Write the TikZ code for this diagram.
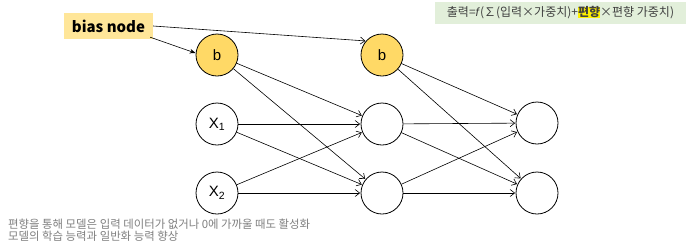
\documentclass[tikz,border=0pt]{standalone}
\usepackage{fontspec}
\setmainfont{Liberation Sans}
\newfontfamily\kr{Noto Sans CJK KR}
\usetikzlibrary{arrows.meta}
\definecolor{biasfill}{HTML}{FFE699}
\definecolor{bfill}{HTML}{FFD966}
\definecolor{eqfill}{HTML}{E2EFDA}
\definecolor{eqtext}{HTML}{404040}
\definecolor{notetext}{HTML}{7F7F7F}
\tikzset{
  neuron/.style={circle, draw=black, line width=0.8pt, minimum size=42pt, inner sep=0pt, font=\fontsize{15}{17}\selectfont},
  biasneuron/.style={neuron, fill=bfill},
  conn/.style={line width=0.6pt, -{Straight Barb[length=4.5pt,width=7pt]}, shorten >=0.5pt},
  bconn/.style={line width=0.6pt, -{Stealth[length=6pt,width=4.5pt]}},
}
\begin{document}
\begin{tikzpicture}[x=1pt,y=-1pt]
\useasboundingbox (0,0) rectangle (690,247);
% nodes
\node[fill=biasfill, minimum width=89pt, minimum height=26pt, inner sep=0pt, font=\kr\bfseries\fontsize{15}{17}\selectfont] (bias) at (108.5,26) {bias node};
\node[biasneuron] (b1) at (217,55) {b};
\node[neuron] (x1) at (217,124) {X\textsubscript{1}};
\node[neuron] (x2) at (217,193) {X\textsubscript{2}};
\node[biasneuron] (b2) at (382,55) {b};
\node[neuron] (h1) at (382,124) {};
\node[neuron] (h2) at (382,193) {};
\node[neuron] (o1) at (537,123) {};
\node[neuron] (o2) at (537,193) {};
% equation box
\node[fill=eqfill, minimum width=251pt, minimum height=22pt, inner sep=0pt, text=eqtext, font=\kr\fontsize{12}{14}\selectfont] (eq) at (560.5,13)
  {출력=\textit{\fontspec{Liberation Sans}f}(∑(입력×가중치)+{\fboxsep=0pt\colorbox{yellow}{\bfseries 편향}}×편향 가중치)};
% note
\node[anchor=north west, inner sep=0pt, text=notetext, align=left, font=\kr\fontsize{11.4}{12}\selectfont] (note) at (8,218.5)
  {편향을 통해 모델은 입력 데이터가 없거나 0에 가까울 때도 활성화\\모델의 학습 능력과 일반화 능력 향상};
% connectors
\draw[bconn] ([xshift=-3pt,yshift=2pt]bias.south east) -- (b1.175);
\draw[conn] (bias.east) -- (b2.139);
\foreach \s in {b1,x1,x2}{
  \draw[conn] (\s) -- (h1);
  \draw[conn] (\s) -- (h2);
}
\foreach \s in {b2,h1,h2}{
  \draw[conn] (\s) -- (o1);
  \draw[conn] (\s) -- (o2);
}
\end{tikzpicture}
\end{document}
